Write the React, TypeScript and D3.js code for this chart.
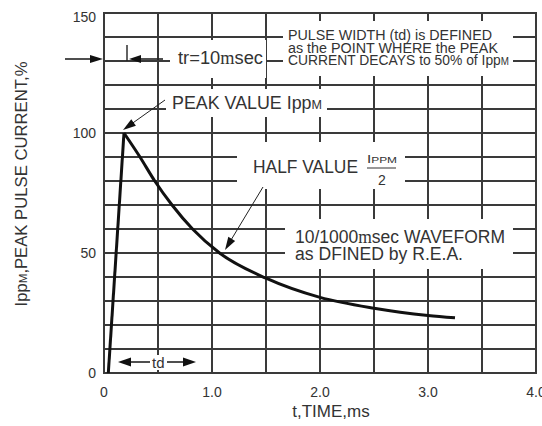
import React from "react";
import * as d3 from "d3";

const xTicks = [0, 1, 2, 3, 4];
const xTickLabels = ["0", "1.0", "2.0", "3.0", "4.0"];
const yTicks = [0, 50, 100, 150];
const yTickLabels = ["0", "50", "100", "150"];
const xGridStep = 0.5;
const yGridStep = 10;
const riseT = [0.04, 0.185];
const riseV = [0, 100];
const decayT = [0.185, 0.333, 0.47, 0.63, 0.82, 1.07, 1.5, 2.0, 2.5, 3.0, 3.25];
const decayV = [100, 90, 80, 70, 60, 50, 39.5, 31.5, 27, 24, 23];

const W = 542;
const H = 426;
const FONT = "'Liberation Sans', Arial, sans-serif";
const SERIF = "'Liberation Serif', 'Times New Roman', serif";
const TXT = "#333";
const GRID = "#3a3a3a";

function Arrow({ x1, y1, x2, y2, head = 12, w = 8, sw = 1.3 }: any) {
  const a = Math.atan2(y2 - y1, x2 - x1);
  const c = Math.cos(a), s = Math.sin(a);
  const bx = x2 - head * c, by = y2 - head * s;
  const p = [
    [x2, y2],
    [bx - (w / 2) * s, by + (w / 2) * c],
    [bx + (w / 2) * s, by - (w / 2) * c],
  ];
  return (
    <g>
      <path d={`M${x1},${y1}L${bx + c},${by + s}`} stroke="#222" strokeWidth={sw} fill="none" />
      <polygon points={p.map((q) => q.join(",")).join(" ")} fill="#111" />
    </g>
  );
}

export default function App() {
  const x = d3.scaleLinear().domain([0, 4]).range([104, 536]);
  const y = d3.scaleLinear().domain([0, 150]).range([373, 13]);
  const nV = Math.round(4 / xGridStep);
  const nH = Math.round(150 / yGridStep);
  const vGrid = d3.range(nV + 1).map((i) => i * xGridStep);
  const hGrid = d3.range(nH + 1).map((i) => i * yGridStep);

  const lineGen = d3.line<[number, number]>().x((d) => x(d[0])).y((d) => y(d[1]));
  const riseD = lineGen(riseT.map((t, i) => [t, riseV[i]] as [number, number]));
  const decayD = d3
    .line<[number, number]>()
    .x((d) => x(d[0]))
    .y((d) => y(d[1]))
    .curve(d3.curveMonotoneX)(decayT.map((t, i) => [t, decayV[i]] as [number, number]));

  const boxes = [
    { x: 170, y: 40, w: 96, h: 38 },
    { x: 283, y: 21, w: 230, h: 55 },
    { x: 166, y: 89, w: 161, h: 28 },
    { x: 237, y: 142, w: 168, h: 47 },
    { x: 285, y: 219, w: 228, h: 50 },
    { x: 151, y: 355, w: 16, h: 15 },
  ];

  return (
    <svg width={W} height={H} style={{ position: "absolute", left: 0, top: 0 }}>
      {/* grid */}
      <g>
        {vGrid.map((v) => (
          <rect key={"v" + v} x={x(v) - 1} y={y(150) - 1} width={2} height={y(0) - y(150) + 2} fill={GRID} />
        ))}
        {hGrid.map((v) => (
          <rect key={"h" + v} x={x(0) - 1} y={y(v) - 1} width={x(4) - x(0) + 2} height={2} fill={GRID} />
        ))}
      </g>

      {/* white label boxes */}
      {boxes.map((b, i) => (
        <rect key={"b" + i} x={b.x} y={b.y} width={b.w} height={b.h} fill="#fff" />
      ))}

      <g fontFamily={FONT}>
        {yTicks.map((v, i) => (
          <text key={"yt" + v} x={96} y={Math.max(y(v), 17)} textAnchor="end" dominantBaseline="central" fontSize={14} fill={TXT}>
            {yTickLabels[i]}
          </text>
        ))}
        {xTicks.map((v, i) => (
          <text key={"xt" + v} x={x(v)} y={397} textAnchor="middle" fontSize={14} fill={TXT}>
            {xTickLabels[i]}
          </text>
        ))}

        <text x={331} y={417} textAnchor="middle" fontSize={17} fill={TXT}>
          t,TIME,ms
        </text>
        <text
          transform="translate(27,184) rotate(-90)"
          textAnchor="middle"
          fontSize={16.5}
          fill={TXT}
          textLength={245}
          lengthAdjust="spacingAndGlyphs"
        >
          Ipp<tspan fontSize={11.5}>M</tspan>,PEAK PULSE CURRENT,%
        </text>

        <text x={178} y={64} fontSize={18} fill={TXT} textLength={85} lengthAdjust="spacingAndGlyphs">
          tr=10<tspan fontFamily={SERIF}>m</tspan>sec
        </text>
        <text x={288} y={40} fontSize={15.5} fill={TXT} textLength={204} lengthAdjust="spacingAndGlyphs">
          PULSE WIDTH (td) is DEFINED
        </text>
        <text x={288} y={52.7} fontSize={15.5} fill={TXT} textLength={210} lengthAdjust="spacingAndGlyphs">
          as the POINT WHERE the PEAK
        </text>
        <text x={288} y={65.3} fontSize={15.5} fill={TXT} textLength={221} lengthAdjust="spacingAndGlyphs">
          CURRENT DECAYS to 50% of Ipp<tspan fontSize={11}>M</tspan>
        </text>
        <text x={172} y={108.5} fontSize={18.5} fill={TXT} textLength={150} lengthAdjust="spacingAndGlyphs">
          PEAK VALUE Ipp<tspan fontSize={13}>M</tspan>
        </text>
        <text x={253} y={173} fontSize={18} fill={TXT} textLength={105} lengthAdjust="spacingAndGlyphs">
          HALF VALUE
        </text>
        <text x={367} y={163} fontSize={11.5} fill={TXT} textLength={30} lengthAdjust="spacingAndGlyphs">
          I<tspan fontSize={9}>PPM</tspan>
        </text>
        <text x={382} y={185} textAnchor="middle" fontSize={14} fill={TXT}>
          2
        </text>
        <text x={295} y={243} fontSize={18} fill={TXT} textLength={210} lengthAdjust="spacingAndGlyphs">
          10/1000<tspan fontFamily={SERIF}>m</tspan>sec WAVEFORM
        </text>
        <text x={295} y={260} fontSize={18} fill={TXT} textLength={168} lengthAdjust="spacingAndGlyphs">
          as DFINED by R.E.A.
        </text>
        <text x={152} y={368} fontSize={15} fill={TXT}>
          td
        </text>
      </g>
      <rect x={367} y={167.5} width={29} height={1} fill={TXT} />

      <Arrow x1={65} y1={59} x2={103} y2={59} head={13} w={8} sw={1.6} />
      <rect x={126.3} y={45} width={1.4} height={16} fill="#222" />
      <Arrow x1={163} y1={59} x2={129} y2={59} head={12} w={8} sw={1.6} />
      <Arrow x1={165} y1={100} x2={123} y2={130} head={13} w={8} sw={1} />
      <Arrow x1={263} y1={187} x2={225} y2={250} head={13} w={8} sw={1} />
      <Arrow x1={150} y1={362} x2={118} y2={362} head={13} w={9} sw={1.6} />
      <Arrow x1={167} y1={362} x2={196} y2={362} head={13} w={9} sw={1.6} />

      <path d={riseD || ""} fill="none" stroke="#111" strokeWidth={3} strokeLinejoin="round" />
      <path d={decayD || ""} fill="none" stroke="#111" strokeWidth={3} strokeLinejoin="round" />
    </svg>
  );
}
